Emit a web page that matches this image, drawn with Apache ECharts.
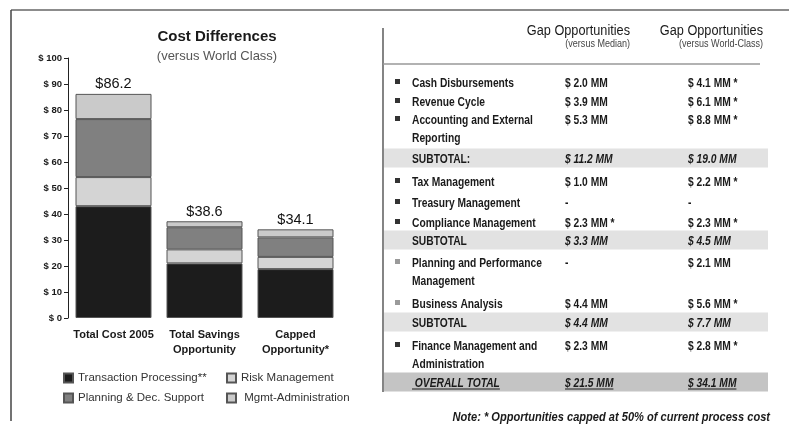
<!DOCTYPE html>
<html>
<head>
<meta charset="utf-8">
<script src="https://cdn.jsdelivr.net/npm/echarts@6/dist/echarts.min.js"></script>
<style>
  html, body { margin: 0; padding: 0; background: #fff; }
  #main { width: 789px; height: 425px; }
</style>
</head>
<body>
<div id="main"></div>
<script>
// left chart data ($ MM)
var categories = ['Total Cost 2005', 'Total Savings\nOpportunity', 'Capped\nOpportunity*'];
var transaction = [43.0, 21.0, 18.8];
var risk = [11.2, 5.4, 4.7];
var planning = [22.3, 8.5, 7.5];
var mgmt = [9.7, 2.3, 3.1];
var totals = ['86.2', '38.6', '34.1'];

// right table data
var rowLabels = [
  'Cash Disbursements', 'Revenue Cycle', 'Accounting and External\nReporting', 'SUBTOTAL:',
  'Tax Management', 'Treasury Management', 'Compliance Management', 'SUBTOTAL',
  'Planning and Performance\nManagement', 'Business Analysis', 'SUBTOTAL',
  'Finance Management and\nAdministration', ' OVERALL TOTAL'
];
var medianGap = [
  '$ 2.0 MM', '$ 3.9 MM', '$ 5.3 MM', '$ 11.2 MM',
  '$ 1.0 MM', '-', '$ 2.3 MM *', '$ 3.3 MM',
  '-', '$ 4.4 MM', '$ 4.4 MM',
  '$ 2.3 MM', '$ 21.5 MM'
];
var worldGap = [
  '$ 4.1 MM *', '$ 6.1 MM *', '$ 8.8 MM *', '$ 19.0 MM',
  '$ 2.2 MM *', '-', '$ 2.3 MM *', '$ 4.5 MM',
  '$ 2.1 MM', '$ 5.6 MM *', '$ 7.7 MM',
  '$ 2.8 MM *', '$ 34.1 MM'
];
var rowKind = ['item', 'item', 'item', 'sub', 'item', 'item', 'item', 'sub',
  'itemLight', 'itemLight', 'sub', 'item', 'total'];

// table layout
var rowY = [82, 101, 119, 158, 181, 202, 222, 240, 262, 303, 322, 345, 382];
var colX = [412, 565, 688];

var sans = "'Liberation Sans', Arial, sans-serif";
var squeeze = 0.82; // original uses a narrow face
var ink = '#1a1a1a';

var measureCtx = document.createElement('canvas').getContext('2d');
function textWidth(str, font) {
  measureCtx.font = font;
  return measureCtx.measureText(str).width;
}
function narrowText(x, y, txt, font, extra) {
  return {
    type: 'text', x: x, y: y, scaleX: squeeze,
    style: Object.assign({ text: txt, font: font, fill: ink }, extra)
  };
}

var graphic = [];
// frame lines
graphic.push({ type: 'line', shape: { x1: 11, y1: 10, x2: 789, y2: 10 }, style: { stroke: '#666', lineWidth: 1.5 } });
graphic.push({ type: 'line', shape: { x1: 11, y1: 10, x2: 11, y2: 421 }, style: { stroke: '#444', lineWidth: 1.5 } });
graphic.push({ type: 'line', shape: { x1: 383, y1: 28, x2: 383, y2: 392 }, style: { stroke: '#333', lineWidth: 1.2 } });
graphic.push({ type: 'line', shape: { x1: 383, y1: 64, x2: 760, y2: 64 }, style: { stroke: '#999', lineWidth: 1.5 } });

// table headers
[[630, '(versus Median)'], [763, '(versus World-Class)']].forEach(function (h) {
  graphic.push(narrowText(h[0], 31, 'Gap Opportunities', '15.5px ' + sans, { align: 'right', verticalAlign: 'middle' }));
  graphic.push(narrowText(h[0], 44, h[1], '11px ' + sans, { align: 'right', verticalAlign: 'middle', fill: '#444' }));
});

rowLabels.forEach(function (label, i) {
  var kind = rowKind[i];
  var y = rowY[i];
  var isBand = kind === 'sub' || kind === 'total';
  if (isBand) {
    graphic.push({ type: 'rect', z: -1, shape: { x: 384, y: y - 9.5, width: 384, height: 19 },
      style: { fill: kind === 'total' ? '#c4c4c4' : '#e2e2e2' } });
  } else {
    graphic.push({ type: 'rect', shape: { x: 395, y: y - 3, width: 5, height: 5 },
      style: { fill: kind === 'itemLight' ? '#9a9a9a' : '#333' } });
  }
  var labelFont = (kind === 'total' ? 'italic bold ' : 'bold ') + '12.5px ' + sans;
  var valFont = (isBand ? 'italic bold ' : 'bold ') + '12.5px ' + sans;
  var cells = [label, medianGap[i], worldGap[i]];
  cells.forEach(function (txt, c) {
    var font = c === 0 ? labelFont : valFont;
    graphic.push(narrowText(colX[c], y - 7, txt, font, { align: 'left', verticalAlign: 'top', lineHeight: 18 }));
    if (kind === 'total') {
      var w = textWidth(txt, font) * squeeze;
      graphic.push({ type: 'line', shape: { x1: colX[c], y1: y + 7, x2: colX[c] + w, y2: y + 7 },
        style: { stroke: ink, lineWidth: 1 } });
    }
  });
});

graphic.push(narrowText(770, 417, 'Note: * Opportunities capped at 50% of current process cost',
  'italic bold 13.5px ' + sans, { align: 'right', verticalAlign: 'middle' }));

var barBorder = { borderColor: '#555', borderWidth: 1 };
function seriesOf(name, data, color) {
  return {
    name: name, type: 'bar', stack: 'cost', data: data, barWidth: 76,
    itemStyle: Object.assign({ color: color }, barBorder)
  };
}
var series = [
  seriesOf('Transaction Processing**', transaction, '#1c1c1c'),
  seriesOf('Risk Management', risk, '#d4d4d4'),
  seriesOf('Planning & Dec. Support', planning, '#808080'),
  seriesOf(' Mgmt-Administration', mgmt, '#cacaca')
];
series[3].label = {
  show: true, position: 'top', distance: 2,
  fontFamily: sans, fontSize: 14.5, color: '#111',
  formatter: function (p) { return '$' + totals[p.dataIndex]; }
};

var legendText = { fontFamily: sans, fontSize: 11.5, color: '#333' };
var chart = echarts.init(document.getElementById('main'));
chart.setOption({
  animation: false,
  backgroundColor: '#fff',
  title: {
    text: 'Cost Differences',
    subtext: '(versus World Class)',
    left: 212, top: 24, textAlign: 'center', itemGap: 6,
    textStyle: { fontFamily: sans, fontSize: 15, fontWeight: 'bold', color: ink },
    subtextStyle: { fontFamily: sans, fontSize: 13, color: '#555' }
  },
  legend: [
    {
      orient: 'vertical', left: 58, top: 367, icon: 'rect', itemWidth: 9, itemHeight: 9, itemGap: 8,
      data: ['Transaction Processing**', 'Planning & Dec. Support'], textStyle: legendText
    },
    {
      orient: 'vertical', left: 221, top: 367, icon: 'rect', itemWidth: 9, itemHeight: 9, itemGap: 8,
      data: ['Risk Management', ' Mgmt-Administration'], textStyle: legendText
    }
  ],
  grid: { left: 68, right: 448, top: 58, bottom: 107 },
  xAxis: {
    type: 'category', data: categories,
    axisLine: { show: false }, axisTick: { show: false },
    axisLabel: { interval: 0, fontFamily: sans, fontWeight: 'bold', fontSize: 11, color: ink, margin: 9, lineHeight: 15 }
  },
  yAxis: {
    type: 'value', min: 0, max: 100, interval: 10,
    axisLine: { show: true, lineStyle: { color: '#222' } },
    axisTick: { show: true, length: 4, lineStyle: { color: '#222' } },
    splitLine: { show: false },
    axisLabel: { fontFamily: sans, fontWeight: 'bold', fontSize: 9.5, color: ink, margin: 6,
      formatter: function (v) { return '$ ' + v; } }
  },
  series: series,
  graphic: graphic
});
</script>
</body>
</html>
